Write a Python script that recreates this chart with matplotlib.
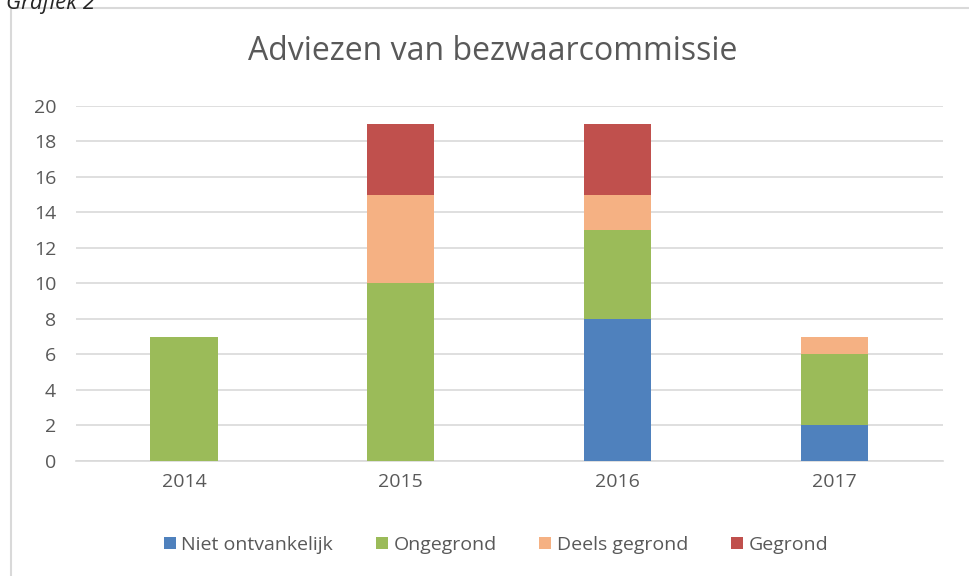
import numpy as np
import matplotlib.pyplot as plt
from matplotlib.patches import Rectangle

plt.rcParams['font.family'] = ['Open Sans', 'DejaVu Sans']

# data #
years = ['2014', '2015', '2016', '2017']
niet_ontvankelijk = [0, 0, 8, 2]
ongegrond = [7, 10, 5, 4]
deels_gegrond = [0, 5, 2, 1]
gegrond = [0, 4, 4, 0]

series = [niet_ontvankelijk, ongegrond, deels_gegrond, gegrond]
names = ['Niet ontvankelijk', 'Ongegrond', 'Deels gegrond', 'Gegrond']
colors = ['#4f81bd', '#9bbb59', '#f5b183', '#c0504d']
grey = '#595959'

fig = plt.figure(figsize=(9.69, 5.76), dpi=100)
ax = fig.add_axes([0.078, 0.1997, 0.895, 0.6163])

# frame around chart #
fig.patches.append(Rectangle((11 / 969, -0.1), 1.0, 1 - 8 / 576 + 0.1,
                             transform=fig.transFigure, fill=False,
                             edgecolor='#d9d9d9', linewidth=1.5))
fig.text(6 / 969, 1 - 3 / 576, 'Grafiek 2', style='italic', fontsize=16,
         color='#262626', va='center', ha='left')

x = np.arange(len(years))
bottom = np.zeros(len(years))
for vals, name, c in zip(series, names, colors):
    ax.bar(x, vals, 0.31, bottom=bottom, color=c, label=name, zorder=3)
    bottom += np.array(vals)

ax.set_xlim(-0.5, 3.5)
ax.set_ylim(0, 20)
ax.set_yticks(range(0, 21, 2))
ax.set_xticks(x)
ax.set_xticklabels(years)
ax.grid(axis='y', color='#d9d9d9', linewidth=1.2, zorder=0)
for s in ['top', 'right', 'left']:
    ax.spines[s].set_visible(False)
ax.spines['bottom'].set_color('#d9d9d9')
ax.spines['bottom'].set_linewidth(1.2)
ax.tick_params(length=0, colors=grey, labelsize=14, pad=9)
ax.tick_params(axis='y', pad=14)

fig.text(0.508, 1 - 52 / 576, 'Adviezen van bezwaarcommissie', ha='center',
         va='center', fontsize=23, color=grey)

fig.legend(loc='center', bbox_to_anchor=(0.512, 1 - 545 / 576), ncol=4,
           frameon=False, fontsize=14, labelcolor=grey, handlelength=0.6,
           handleheight=0.6, handletextpad=0.3, columnspacing=2.2)

fig.savefig('out.png')
